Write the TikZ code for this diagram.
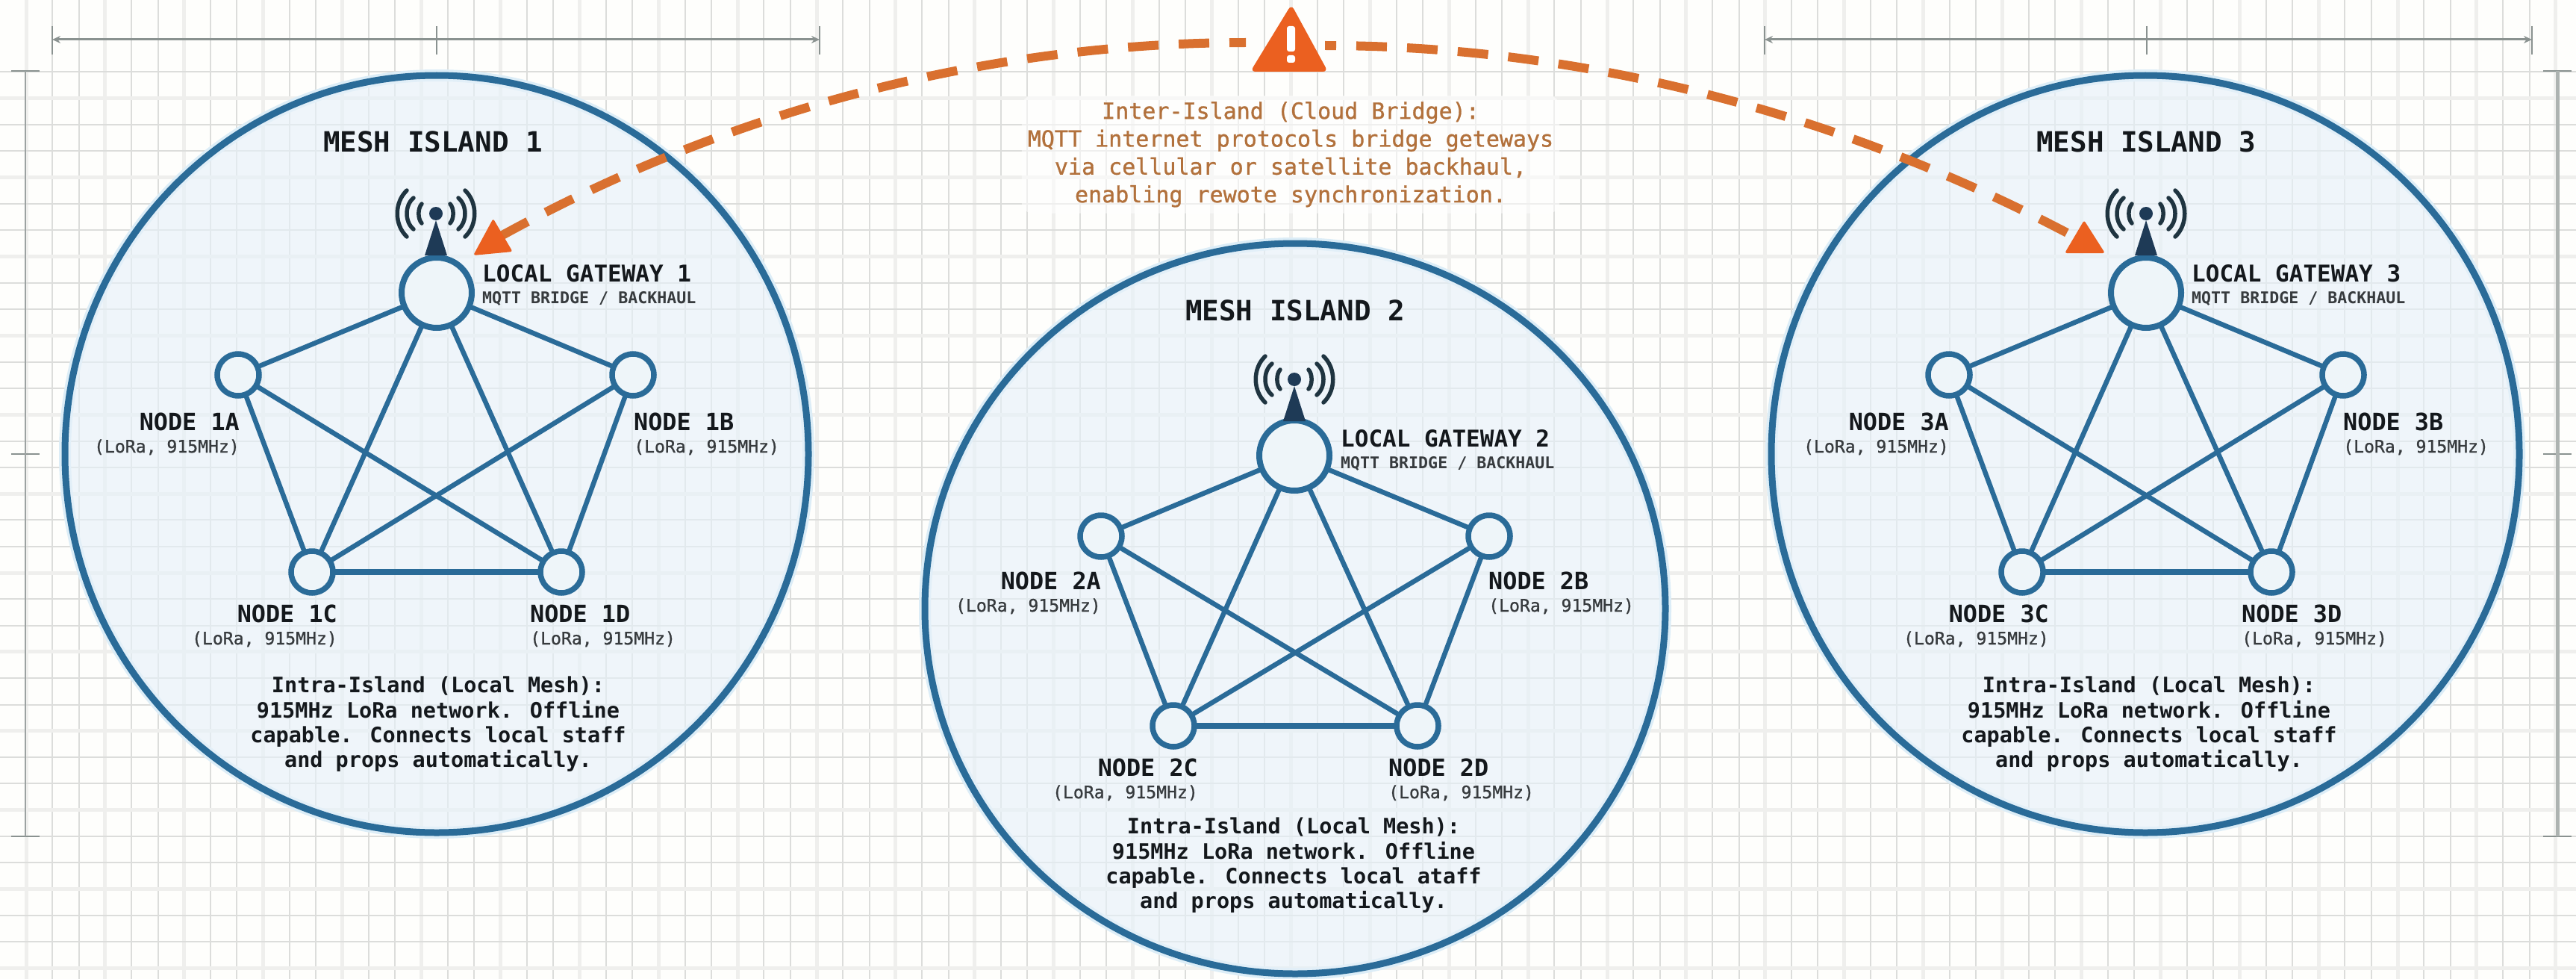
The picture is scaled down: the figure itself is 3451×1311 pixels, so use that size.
\documentclass[tikz,border=0pt]{standalone}
\usepackage{fontspec}
\usetikzlibrary{shapes.geometric,arrows.meta}
\newfontfamily\monof{DejaVu Sans Mono}
\newfontfamily\monomid[FakeBold=1]{DejaVu Sans Mono}
\definecolor{pagebg}{HTML}{FEFEFC}
\definecolor{gridthin}{HTML}{DCDDDB}
\definecolor{gridwide}{HTML}{EFEFED}
\definecolor{meshblue}{HTML}{2A6B98}
\definecolor{meshhalo}{HTML}{DCEDF7}
\definecolor{islandfill}{HTML}{E6F1F9}
\definecolor{nodefill}{HTML}{EEF5F9}
\definecolor{navy}{HTML}{1E3A56}
\definecolor{wavecol}{HTML}{1F3440}
\definecolor{inkcol}{HTML}{14181C}
\definecolor{bridgecol}{HTML}{D9702F}
\definecolor{warncol}{HTML}{EB6020}
\definecolor{bridgetext}{HTML}{B2713C}
\definecolor{dimcol}{HTML}{8A9290}
\tikzset{
  islandshape/.style={ellipse,draw=meshblue,line width=9pt,fill=islandfill,fill opacity=.62,draw opacity=1,inner sep=0pt},
  islandhalo/.style={ellipse,draw=meshhalo,line width=16pt,inner sep=0pt},
  gatewaynode/.style={circle,draw=meshblue,line width=8pt,fill=nodefill,minimum size=94pt,inner sep=0pt},
  meshnode/.style={circle,draw=meshblue,line width=7.5pt,fill=nodefill,minimum size=56pt,inner sep=0pt},
  meshedge/.style={draw=meshblue,line width=6.5pt},
  titlelab/.style={font=\monof\bfseries\fontsize{37.5}{44}\selectfont,text=inkcol,inner sep=0pt,anchor=base},
  gwlab/.style={font=\monof\bfseries\fontsize{31}{36}\selectfont,text=inkcol,inner sep=0pt},
  gwsub/.style={font=\monof\bfseries\fontsize{21.6}{26}\selectfont,text=inkcol!85!white,inner sep=0pt},
  namelab/.style={font=\monof\bfseries\fontsize{31.8}{36}\selectfont,text=inkcol,inner sep=0pt},
  sublab/.style={font=\monomid\fontsize{23.1}{27}\selectfont,text=inkcol!85!white,inner sep=0pt},
  intralab/.style={font=\monof\bfseries\fontsize{28.5}{33.3}\selectfont,text=inkcol,inner sep=0pt,align=center,anchor=north},
  bridgelab/.style={font=\monomid\fontsize{30}{37.3}\selectfont,text=bridgetext,align=center,anchor=north,fill=white,fill opacity=.55,text opacity=1,rounded corners=14pt,inner xsep=8pt,inner ysep=8pt},
  bridgeline/.style={draw=bridgecol,line width=12pt,dash pattern=on 41pt off 27pt},
  bridgehead/.style={fill=warncol,rounded corners=3pt},
  dimline/.style={draw=dimcol,line width=3pt},
  dimtick/.style={draw=dimcol,line width=2pt},
  wave/.style={draw=wavecol,line width=5.5pt,line cap=round},
  pics/antenna/.style={code={
    \fill[navy] (0,9) -- (-15,56) -- (15,56) -- cycle;
    \fill[navy] (0,0) circle[radius=9pt];
    \foreach \s in {-1,1}{
      \draw[wave] (\s*19,-13) .. controls (\s*24.5,-7) and (\s*24.5,7) .. (\s*19,13);
      \draw[wave] (\s*30,-21) .. controls (\s*42,-11) and (\s*42,11) .. (\s*30,21);
      \draw[wave] (\s*39,-31) .. controls (\s*56,-15) and (\s*56,15) .. (\s*39,31);
    }
  }}
}
\newcommand{\nodelab}[5]{%
  \node[namelab,anchor=base #2] (#1name) at (#3,#4) {#5};
  \node[sublab,anchor=base #2] (#1sub) at (#3,#4+30) {(LoRa, 915MHz)};
}
\newcommand{\gwlab}[4]{%
  \node[gwlab,anchor=base west] (#1name) at (#2,#3) {LOCAL GATEWAY #4};
  \node[gwsub,anchor=base west] (#1sub) at (#2,#3+29) {MQTT BRIDGE / BACKHAUL};
}
\newcommand{\meshedges}[1]{%
  \foreach \a/\b in {g/a,g/b,g/c,g/d,a/c,b/d,a/d,b/c}
    \draw[meshedge] (\a#1) -- (\b#1);
  \draw[meshedge,line width=8pt] (c#1) -- (d#1);
}
\begin{document}
\begin{tikzpicture}[x=1pt,y=-1pt]
\useasboundingbox (0,0) rectangle (3451,1311);
\fill[pagebg] (0,0) rectangle (3451,1311);
% grid
\foreach \k in {0,...,97}{
  \pgfmathtruncatemacro\m{mod(\k,3)}
  \pgfmathsetmacro\gx{35+35.3*\k}
  \ifnum\m=0 \draw[gridwide,line width=5pt] (\gx,0) -- (\gx,1311);
  \else \draw[gridthin,line width=2pt] (\gx,0) -- (\gx,1311); \fi
}
\foreach \k in {0,...,37}{
  \pgfmathtruncatemacro\m{mod(\k,3)}
  \pgfmathsetmacro\gy{1120-35.3*29+35.3*\k}
  \ifnum\m=1 \draw[gridwide,line width=5pt] (0,\gy) -- (3451,\gy);
  \else \draw[gridthin,line width=2pt] (0,\gy) -- (3451,\gy); \fi
}
% dimension lines
\coordinate (dimAl) at (70,53);  \coordinate (dimAm) at (585,53); \coordinate (dimAr) at (1098,53);
\coordinate (dimBl) at (2364,53);\coordinate (dimBm) at (2876,53);\coordinate (dimBr) at (3392,53);
\coordinate (dimCt) at (34,95);  \coordinate (dimCm) at (34,608); \coordinate (dimCb) at (34,1120);
\coordinate (dimDt) at (3426,95);\coordinate (dimDm) at (3426,608);\coordinate (dimDb) at (3426,1120);
\foreach \p in {dimAl,dimAm,dimAr,dimBl,dimBm,dimBr}
  \draw[dimtick] ([yshift=18pt]\p) -- ([yshift=-20pt]\p);
\foreach \p in {dimCt,dimCm,dimCb,dimDt,dimDm,dimDb}
  \draw[dimtick] ([xshift=-19pt]\p) -- ([xshift=19pt]\p);
\draw[dimline,{Stealth[length=11pt,width=10pt]}-{Stealth[length=11pt,width=10pt]}] (dimAl) -- (dimAr);
\draw[dimline,{Stealth[length=11pt,width=10pt]}-{Stealth[length=11pt,width=10pt]}] (dimBl) -- (dimBr);
\draw[draw=dimcol!85!white,line width=2.5pt] (dimCt) -- (dimCb);
\draw[draw=dimcol!70!white,line width=5pt] (dimDt) -- (dimDb);
% islands
\node[islandhalo,minimum width=996pt,minimum height=1014pt] (halo1) at (585,608) {};
\node[islandhalo,minimum width=1002pt,minimum height=1014pt] (halo3) at (2874,608) {};
\node[islandhalo,minimum width=992pt,minimum height=978pt] (halo2) at (1735,815) {};
\node[islandshape,minimum width=996pt,minimum height=1014pt] (island1) at (585,608) {};
\node[islandshape,minimum width=1002pt,minimum height=1014pt] (island3) at (2874,608) {};
\node[islandshape,minimum width=992pt,minimum height=978pt] (island2) at (1735,815) {};
% mesh 1
\coordinate (g1) at (585,392); \coordinate (a1) at (319,502); \coordinate (b1) at (848,502);
\coordinate (c1) at (418,766); \coordinate (d1) at (752,766);
\meshedges{1}
\node[gatewaynode] (gw1) at (g1) {};
\node[meshnode] (n1a) at (a1) {}; \node[meshnode] (n1b) at (b1) {};
\node[meshnode] (n1c) at (c1) {}; \node[meshnode] (n1d) at (d1) {};
% mesh 2
\coordinate (g2) at (1734,610); \coordinate (a2) at (1475,718); \coordinate (b2) at (1995,718);
\coordinate (c2) at (1572,972); \coordinate (d2) at (1899,972);
\meshedges{2}
\node[gatewaynode] (gw2) at (g2) {};
\node[meshnode] (n2a) at (a2) {}; \node[meshnode] (n2b) at (b2) {};
\node[meshnode] (n2c) at (c2) {}; \node[meshnode] (n2d) at (d2) {};
% mesh 3
\coordinate (g3) at (2875,392); \coordinate (a3) at (2611,502); \coordinate (b3) at (3139,502);
\coordinate (c3) at (2709,766); \coordinate (d3) at (3043,766);
\meshedges{3}
\node[gatewaynode] (gw3) at (g3) {};
\node[meshnode] (n3a) at (a3) {}; \node[meshnode] (n3b) at (b3) {};
\node[meshnode] (n3c) at (c3) {}; \node[meshnode] (n3d) at (d3) {};
% antennas
\pic at (584,286) {antenna};
\pic at (1734,508) {antenna};
\pic at (2875,286) {antenna};
% titles
\node[titlelab] (title1) at (580,204) {MESH ISLAND 1};
\node[titlelab] (title2) at (1735,429) {MESH ISLAND 2};
\node[titlelab] (title3) at (2875,204) {MESH ISLAND 3};
% gateway labels
\gwlab{lg1}{646}{377}{1}
\gwlab{lg2}{1796}{598}{2}
\gwlab{lg3}{2936}{377}{3}
% node labels
\nodelab{l1a}{east}{321}{576}{NODE 1A}
\nodelab{l1b}{west}{849}{576}{NODE 1B}
\nodelab{l1c}{east}{452}{833}{NODE 1C}
\nodelab{l1d}{west}{710}{833}{NODE 1D}
\nodelab{l2a}{east}{1475}{789}{NODE 2A}
\nodelab{l2b}{west}{1994}{789}{NODE 2B}
\nodelab{l2c}{east}{1605}{1039}{NODE 2C}
\nodelab{l2d}{west}{1860}{1039}{NODE 2D}
\nodelab{l3a}{east}{2611}{576}{NODE 3A}
\nodelab{l3b}{west}{3139}{576}{NODE 3B}
\nodelab{l3c}{east}{2745}{833}{NODE 3C}
\nodelab{l3d}{west}{3003}{833}{NODE 3D}
% intra-island text
\node[intralab] (intra1) at (587,906) {Intra-Island (Local Mesh):\\915MHz LoRa network. Offline\\capable. Connects local staff\\and props automatically.};
\node[intralab] (intra2) at (1733,1095) {Intra-Island (Local Mesh):\\915MHz LoRa network. Offline\\capable. Connects local ataff\\and props automatically.};
\node[intralab] (intra3) at (2879,906) {Intra-Island (Local Mesh):\\915MHz LoRa network. Offline\\capable. Connects local staff\\and props automatically.};
% inter-island text
\node[bridgelab] (bridgetxt) at (1729,128) {Inter-Island (Cloud Bridge):\\MQTT internet protocols bridge geteways\\via cellular or satellite backhaul,\\enabling rewote synchronization.};
% warning
\coordinate (warnL) at (1669,57);
\coordinate (warnR) at (1775,61);
\coordinate (headL) at (673,315);
\coordinate (headR) at (2779,317);
\draw[bridgeline,dash phase=19pt] (warnL) .. controls (1350,57) and (1000,135) .. (headL);
\draw[bridgeline,dash phase=26pt] (warnR) .. controls (2100,61) and (2449,142) .. (headR);
\fill[bridgehead] (660.7,292.7) -- (686.7,337) -- (634,342) -- cycle;
\fill[bridgehead] (2792,295) -- (2820,339) -- (2766,339) -- cycle;
\fill[warncol,rounded corners=7pt] (1730,6) -- (1779,96) -- (1675,96) -- cycle;
\fill[white,rounded corners=3pt] (1724,35) rectangle (1735,69);
\fill[white,rounded corners=3pt] (1724,74) rectangle (1735,84);
\end{tikzpicture}
\end{document}
